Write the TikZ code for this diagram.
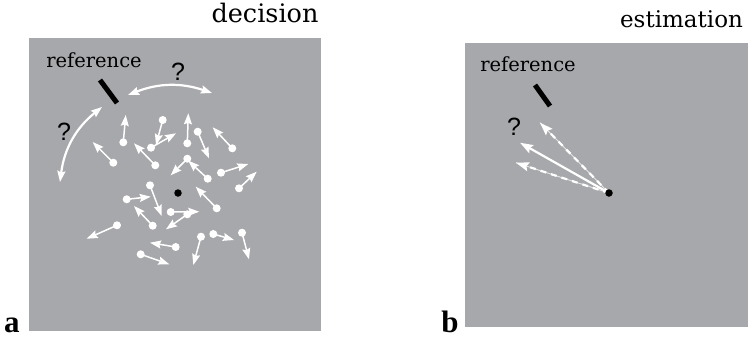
\documentclass[tikz,border=0pt]{standalone}
\usepackage{fontspec}
\setmainfont{DejaVu Serif}
\setsansfont{Liberation Sans}
\newfontfamily\letterfont{Liberation Serif}
\usetikzlibrary{arrows.meta}
\definecolor{panelgray}{RGB}{167,168,171}

\begin{document}
\begin{tikzpicture}[x=1pt,y=-1pt,
  panel/.style={fill=panelgray,draw=none},
  wdot/.style={circle,fill=white,inner sep=0pt,minimum size=8pt},
  bdot/.style={circle,fill=black,inner sep=0pt,minimum size=7.5pt},
  motion/.style={white,line width=1.5pt,-{Stealth[length=11pt,width=8pt,inset=1.5pt]}},
  swing/.style={white,line width=2.2pt,{Stealth[length=11pt,width=8pt,inset=1.5pt]}-{Stealth[length=11pt,width=8pt,inset=1.5pt]}},
  guess/.style={white,line width=2.2pt,-{Stealth[length=13pt,width=9pt,inset=2pt]}},
  guessline/.style={white!70!panelgray,line width=0.9pt},
  guessdash/.style={white,line width=2.2pt,dash pattern=on 6pt off 5pt,-{Stealth[length=13pt,width=9pt,inset=2pt]}},
  refbar/.style={black,line width=5pt},
  title/.style={anchor=base,font=\fontsize{25.5}{30}\selectfont},
  subtitle/.style={anchor=base,font=\fontsize{23}{28}\selectfont},
  reflabel/.style={anchor=base,font=\fontsize{19.5}{23}\selectfont},
  query/.style={anchor=base,font=\sffamily\fontsize{25}{28}\selectfont},
  panellabel/.style={anchor=base,font=\letterfont\bfseries\fontsize{31}{34}\selectfont}
]
\useasboundingbox (0,0) rectangle (749,341);

% panel a
\fill[panel] (29,38) rectangle (321,331);
\node[panellabel] (la) at (12,332) {a};
\node[title] (tdec) at (265,22) {decision};
\node[reflabel] (refa) at (94,67) {reference};
\coordinate (bara1) at (100,80);
\coordinate (bara2) at (117,103);
\draw[refbar] (bara1) -- (bara2);

\coordinate (topL) at (128,95);
\coordinate (topR) at (212,93);
\coordinate (lefT) at (102,107);
\coordinate (lefB) at (60,182);
\draw[swing] (topL) to[bend left=20] (topR);
\draw[swing] (lefT) to[bend right=22] (lefB);
\node[query] (qtop) at (178,80) {?};
\node[query] (qleft) at (64,140) {?};

\node[bdot] (fix) at (178,193) {};

\foreach \i/\dx/\dy/\tx/\ty in {
  1/123.3/142.3/125.7/115, 2/162.7/120/156/145, 3/151/147.7/176/133.3,
  4/187.3/143.3/188.3/113.3, 5/197.7/131.7/209/158.3, 6/232.3/148.3/212.7/127.3,
  7/113.3/162.7/92.7/142, 8/155.3/165.3/134/143.3, 9/187.3/158.7/170.7/175.3,
  10/207.7/178.7/188.3/160.7, 11/221/172.7/248.3/164, 12/239/188.3/256.7/171.7,
  13/150/185.3/161.7/216, 14/126.7/199.3/150.7/196.7, 15/216.7/208.3/195.7/186.7,
  16/170.7/212/199.3/211.7, 17/187.3/214.3/166/229.3, 18/152.7/225.7/134/206,
  19/117/225.3/86.7/238.7, 20/201/236.7/193.3/265, 21/213.3/234/234/240,
  22/242/232.7/249/259.3, 23/175.7/247/150/242.7, 24/140.7/254.3/169.3/264.3}
{
  \node[wdot] (dot\i) at (\dx,\dy) {};
  \coordinate (tip\i) at (\tx,\ty);
  \draw[motion] (dot\i.center) -- (tip\i);
}

% panel b
\fill[panel] (465,43) rectangle (748,327);
\node[panellabel] (lb) at (450,332) {b};
\node[subtitle] (test) at (681.5,27) {estimation};
\node[reflabel] (refb) at (528,71) {reference};
\coordinate (barb1) at (535,85);
\coordinate (barb2) at (550,106);
\draw[refbar] (barb1) -- (barb2);
\node[query] (qb) at (514,135) {?};

\coordinate (origin) at (609,193);
\coordinate (est1) at (540,122.7);
\coordinate (est2) at (520,142.7);
\coordinate (est3) at (516,162.7);
\draw[guessline] (origin) -- (est1);
\draw[guessline] (origin) -- (est3);
\draw[guessdash] (origin) -- (est1);
\draw[guessdash] (origin) -- (est3);
\draw[guess] (origin) -- (est2);
\node[bdot] (src) at (origin) {};
\end{tikzpicture}
\end{document}
